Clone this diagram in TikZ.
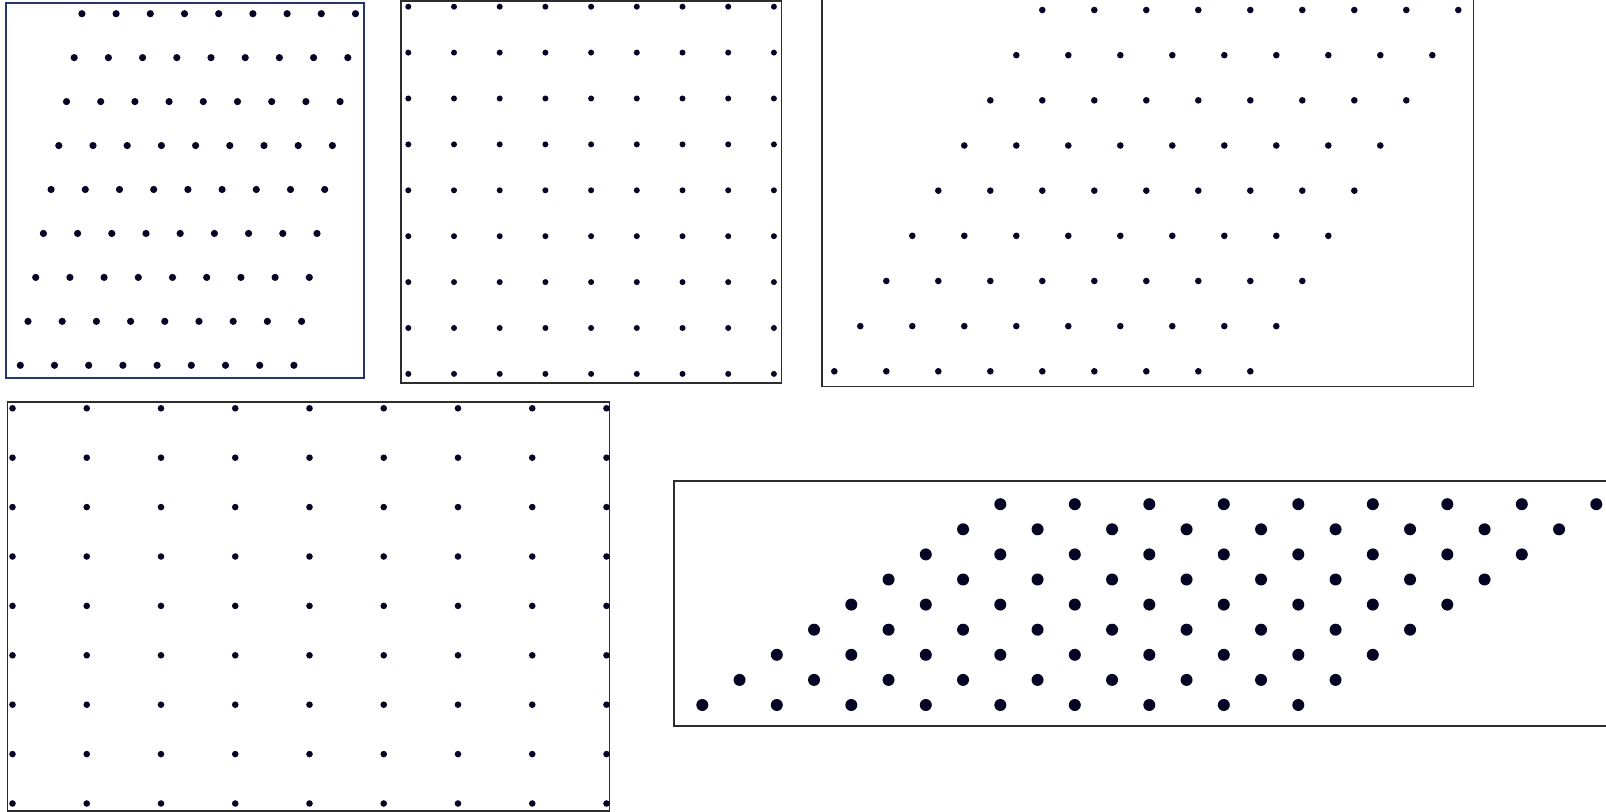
\documentclass[tikz,border=0pt]{standalone}
\usepackage{tikz}
\definecolor{dotnavy}{RGB}{6,4,36}
\definecolor{framegray}{RGB}{45,45,45}
\definecolor{frameblue}{RGB}{36,54,110}
\tikzset{
  latdot/.style={fill=dotnavy},
  panelframe/.style={draw=framegray, line width=0.85pt}
}

\begin{document}
\begin{tikzpicture}[x=0.5pt, y=-0.5pt]
\useasboundingbox (0,0) rectangle (1606,812);
\clip (0,0) rectangle (1606,812);
% top left: slightly sheared lattice
\draw[panelframe, draw=frameblue] (6,3.3) rectangle (363.8,378.3);
\foreach \i in {0,...,8}
  \foreach \j in {0,...,8}
    \fill[latdot] (20.3+34.2*\j+7.7*\i, 365.3-43.95*\i) circle[radius=1.8pt];
% square lattice
\draw[panelframe] (401.3,1) rectangle (781.6,382.8);
\foreach \i in {0,...,8}
  \foreach \j in {0,...,8}
    \fill[latdot] (408.3+45.7*\j, 6.7+45.9*\i) circle[radius=1.5pt];
% hexagonal lattice
\draw[panelframe] (822,-10) rectangle (1473.5,386.5);
\foreach \i in {0,...,8}
  \foreach \j in {0,...,8}
    \fill[latdot] (834.3+52*\j+26*\i, 371.3-45.16*\i) circle[radius=1.65pt];
% rectangular lattice
\draw[panelframe] (7.5,402.3) rectangle (609.5,811);
\foreach \i in {0,...,8}
  \foreach \j in {0,...,8}
    \fill[latdot] (12.5+74.25*\j, 408.3+49.4*\i) circle[radius=1.65pt];
% centred rectangular lattice
\draw[panelframe, line width=1pt] (674,481) rectangle (1620,726);
\foreach \i in {0,...,8}
  \foreach \j in {0,...,8}
    \fill[latdot] (702.3+74.5*\j+37.25*\i, 705-25.1*\i) circle[radius=3pt];
\end{tikzpicture}
\end{document}
